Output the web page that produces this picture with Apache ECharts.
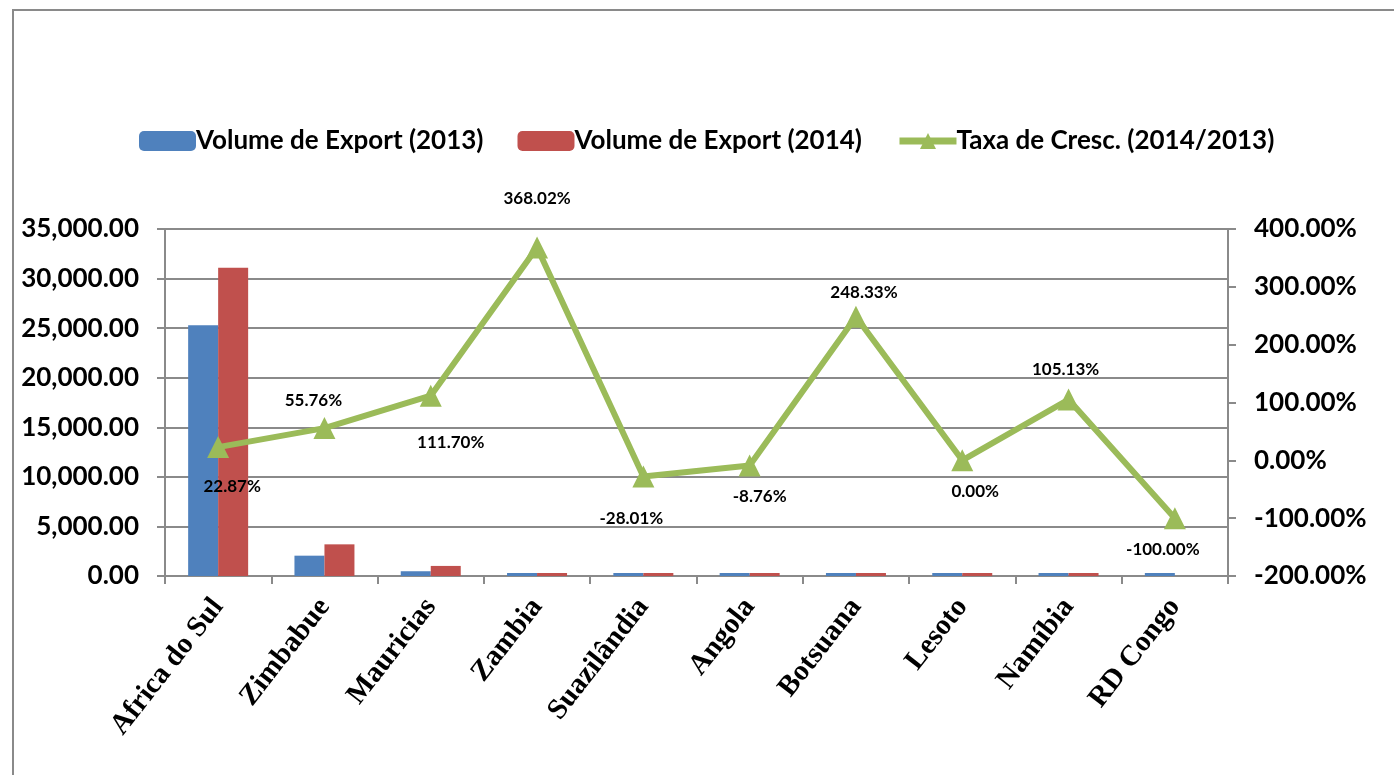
<!DOCTYPE html>
<html>
<head>
<meta charset="utf-8">
<script src="https://cdn.jsdelivr.net/npm/echarts@6/dist/echarts.min.js"></script>
<style>
  html, body { margin: 0; padding: 0; background: #fff; }
  #myChart { width: 1394px; height: 775px; }
</style>
</head>
<body>
<div id="myChart"></div>
<script>
// dados
var paises = ['Africa do Sul', 'Zimbabue', 'Mauricias', 'Zambia', 'Suazilândia', 'Angola', 'Botsuana', 'Lesoto', 'Namíbia', 'RD Congo'];
var volume2013 = [25300, 2050, 480, 60, 250, 230, 70, 200, 100, 150];
var volume2014 = [31086, 3193, 1016, 281, 180, 210, 244, 200, 205, 0];
var taxaCresc = [22.87, 55.76, 111.70, 368.02, -28.01, -8.76, 248.33, 0.00, 105.13, -100.00];

// colocacao dos rotulos da linha (acima / abaixo, distancia, desvio horizontal)
var rotuloPos = ['bottom', 'top', 'bottom', 'top', 'bottom', 'bottom', 'top', 'bottom', 'top', 'bottom'];
var rotuloDist = [20, 8, 27, 29, 22, 12, 5, 12, 11, 12];
var rotuloDx = [14, -11, 20, 0, -12, 10, 8, 13, -3, -12];

var fonte = 'Lato, "Open Sans", sans-serif';
var cinza = '#8a8a8a';
var verde = '#9BBB59';

var dom = document.getElementById('myChart');
var myChart = echarts.init(dom);

function fmtNum(v) {
    return v.toFixed(2).replace(/\B(?=(\d{3})+(?!\d))/g, ',');
}

var option = {
    animation: false,
    graphic: [{
        type: 'rect',
        shape: { x: 13, y: 10, width: 1500, height: 900 },
        style: { fill: 'none', stroke: '#8a8a8a', lineWidth: 2 }
    }],
    legend: {
        top: 128,
        left: 139,
        padding: 0,
        itemWidth: 57,
        itemHeight: 20,
        itemGap: 34,
        textStyle: { fontFamily: fonte, fontWeight: 'bold', fontSize: 26, color: '#000', padding: [0, 0, 0, -5] },
        data: [
            { name: 'Volume de Export (2013)' },
            { name: 'Volume de Export (2014)' },
            { name: 'Taxa de Cresc. (2014/2013)', lineStyle: { width: 7 } }
        ]
    },
    grid: {
        left: 165,
        right: 166,
        top: 229,
        bottom: 199
    },
    xAxis: {
        type: 'category',
        data: paises,
        boundaryGap: true,
        axisLine: { lineStyle: { color: cinza, width: 2 } },
        axisTick: { show: true, length: 8, lineStyle: { color: cinza, width: 2 } },
        axisLabel: {
            interval: 0,
            rotate: 52,
            margin: 26,
            fontFamily: '"Liberation Serif", "DejaVu Serif", serif',
            fontWeight: 'bold',
            fontSize: 29,
            color: '#000'
        }
    },
    yAxis: [{
        type: 'value',
        min: 0,
        max: 35000,
        interval: 5000,
        axisLine: { show: true, lineStyle: { color: cinza, width: 2 } },
        axisTick: { show: true, length: 8, lineStyle: { color: cinza, width: 2 } },
        splitLine: { show: true, lineStyle: { color: cinza, width: 2 } },
        axisLabel: {
            margin: 26,
            fontFamily: fonte,
            fontWeight: 'bold',
            fontSize: 26,
            color: '#000',
            formatter: function (v) { return fmtNum(v); }
        }
    }, {
        type: 'value',
        min: -200,
        max: 400,
        interval: 100,
        position: 'right',
        axisLine: { show: true, lineStyle: { color: cinza, width: 2 } },
        axisTick: { show: true, length: 8, lineStyle: { color: cinza, width: 2 } },
        splitLine: { show: false },
        axisLabel: {
            margin: 26,
            fontFamily: fonte,
            fontWeight: 'bold',
            fontSize: 26,
            color: '#000',
            formatter: function (v) { return v.toFixed(2) + '%'; }
        }
    }],
    series: [{
        name: 'Volume de Export (2013)',
        type: 'bar',
        yAxisIndex: 0,
        barWidth: 30,
        barGap: '0%',
        barMinHeight: 3,
        itemStyle: { color: '#4F81BD' },
        data: volume2013
    }, {
        name: 'Volume de Export (2014)',
        type: 'bar',
        yAxisIndex: 0,
        barWidth: 30,
        barGap: '0%',
        barMinHeight: 3,
        itemStyle: { color: '#C0504D' },
        data: volume2014.map(function (v) { return v === 0 ? '-' : v; })
    }, {
        name: 'Taxa de Cresc. (2014/2013)',
        type: 'line',
        yAxisIndex: 1,
        symbol: 'triangle',
        symbolSize: 22,
        lineStyle: { color: verde, width: 6 },
        itemStyle: { color: verde },
        z: 5,
        data: taxaCresc.map(function (v, i) {
            return {
                value: v,
                label: { position: rotuloPos[i], distance: rotuloDist[i], offset: [rotuloDx[i], 0] }
            };
        }),
        label: {
            show: true,
            fontFamily: fonte,
            fontWeight: 'bold',
            fontSize: 17,
            color: '#000',
            formatter: function (p) { return p.value.toFixed(2) + '%'; }
        }
    }]
};

myChart.setOption(option, true);
</script>
</body>
</html>
